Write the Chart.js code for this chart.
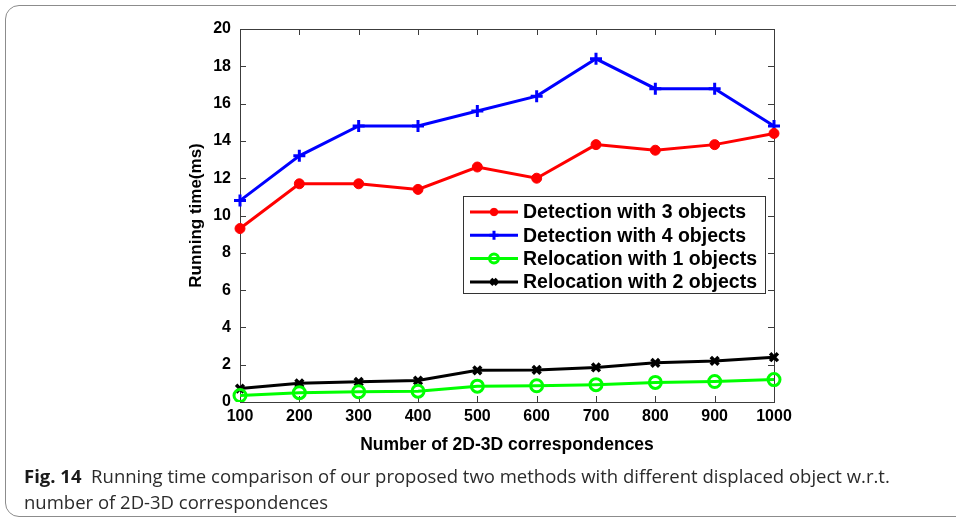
<!DOCTYPE html>
<html><head><meta charset="utf-8">
<script src="https://cdn.jsdelivr.net/npm/chart.js@4.4.1/dist/chart.umd.min.js"></script>
<style>
html,body{margin:0;padding:0;background:#fff;}
body{width:956px;height:520px;overflow:hidden;position:relative;}
#frame{position:absolute;left:5px;top:5px;width:990px;height:512px;border:1.5px solid #8c8c8c;border-radius:14px;box-sizing:border-box;}
#wrap{position:absolute;left:0;top:0;width:956px;height:520px;}
#cap{position:absolute;left:24px;top:463px;width:930px;font-family:"Open Sans","Liberation Sans",sans-serif;font-size:18.5px;line-height:26px;color:#2b2b2b;white-space:nowrap;}
#cap b{font-weight:700;color:#1a1a1a;}
</style>
</head>
<body>
<div id="frame"></div>
<div id="wrap"><canvas id="c" width="956" height="520"></canvas></div>
<div id="cap"><b>Fig. 14</b>&nbsp; Running time comparison of our proposed two methods with different displaced object w.r.t.<br>number of 2D-3D correspondences</div>
<script>
const correspondences = [100, 200, 300, 400, 500, 600, 700, 800, 900, 1000];
const detection3 = [9.3, 11.7, 11.7, 11.4, 12.6, 12.0, 13.8, 13.5, 13.8, 14.4];
const detection4 = [10.8, 13.2, 14.8, 14.8, 15.6, 16.4, 18.4, 16.8, 16.8, 14.8];
const relocation1 = [0.35, 0.50, 0.55, 0.58, 0.85, 0.87, 0.93, 1.05, 1.10, 1.20];
const relocation2 = [0.72, 1.00, 1.08, 1.15, 1.70, 1.72, 1.85, 2.10, 2.20, 2.40];
const seriesLabels = ["Detection with 3 objects", "Detection with 4 objects", "Relocation with 1 objects", "Relocation with 2 objects"];
const yTicks = [0, 2, 4, 6, 8, 10, 12, 14, 16, 18, 20];

const FONT = "'Liberation Sans', Arial, Helvetica, sans-serif";

const boxPlugin = {
  id: 'boxTicks',
  beforeDatasetsDraw(chart) {
    const {ctx, chartArea: a, scales: {x, y}} = chart;
    ctx.save();
    ctx.strokeStyle = '#3c3c3c';
    ctx.lineWidth = 1;
    ctx.strokeRect(Math.round(a.left) + 0.5, Math.round(a.top) + 0.5, Math.round(a.right - a.left), Math.round(a.bottom - a.top));
    const L = 6;
    ctx.beginPath();
    correspondences.forEach((v, i) => {
      const px = Math.round(x.getPixelForValue(i)) + 0.5;
      ctx.moveTo(px, a.bottom); ctx.lineTo(px, a.bottom - L);
      ctx.moveTo(px, a.top); ctx.lineTo(px, a.top + L);
    });
    yTicks.forEach(v => {
      const py = Math.round(y.getPixelForValue(v)) + 0.5;
      ctx.moveTo(a.left, py); ctx.lineTo(a.left + L, py);
      ctx.moveTo(a.right, py); ctx.lineTo(a.right - L, py);
    });
    ctx.stroke();
    ctx.restore();
  },
  afterDraw(chart) {
    const {ctx, chartArea: a} = chart;
    const w = 302, h = 97;
    const bx = Math.round(a.right - 311), by = Math.round(a.top + 167);
    ctx.save();
    ctx.fillStyle = '#fff';
    ctx.fillRect(bx, by, w, h);
    ctx.strokeStyle = '#333';
    ctx.lineWidth = 1;
    ctx.strokeRect(bx + 0.5, by + 0.5, w, h);
    const rowH = 23.3;
    chart.data.datasets.forEach((ds, i) => {
      const cy = by + 16 + i * rowH;
      const x0 = bx + 7, x1 = bx + 55, xm = (x0 + x1) / 2;
      ctx.strokeStyle = ds.borderColor;
      ctx.lineWidth = 3;
      ctx.beginPath(); ctx.moveTo(x0, cy); ctx.lineTo(x1, cy); ctx.stroke();
      ctx.lineWidth = ds.pointBorderWidth;
      ctx.fillStyle = ds.pointBackgroundColor;
      ctx.strokeStyle = ds.pointBorderColor;
      Chart.helpers.drawPoint(ctx, {pointStyle: ds.pointStyle, rotation: 0, radius: ds.pointRadius * 0.75, borderWidth: ds.pointBorderWidth}, xm, cy);
      ctx.fillStyle = '#000';
      ctx.font = "bold 19.5px " + FONT;
      ctx.textBaseline = 'middle';
      ctx.fillText(ds.label, bx + 60, cy + 1);
    });
    ctx.restore();
  }
};

const mk = (label, data, color, style, radius, bw, fill) => ({
  label, data,
  borderColor: color, backgroundColor: fill,
  borderWidth: 3,
  pointStyle: style, pointRadius: radius,
  pointBorderColor: color, pointBackgroundColor: fill,
  pointBorderWidth: bw,
  tension: 0
});

new Chart(document.getElementById('c'), {
  type: 'line',
  data: {
    labels: correspondences,
    datasets: [
      mk(seriesLabels[0], detection3, '#ff0000', 'circle', 5, 1, '#ff0000'),
      mk(seriesLabels[1], detection4, '#0000ff', 'cross', 6, 3, '#0000ff'),
      mk(seriesLabels[2], relocation1, '#00ff00', 'circle', 6, 3, 'rgba(0,0,0,0)'),
      mk(seriesLabels[3], relocation2, '#000000', 'crossRot', 5.5, 3.5, '#000000')
    ]
  },
  options: {
    responsive: false,
    animation: false,
    layout: {padding: {left: 176, right: 182, top: 29, bottom: 62}},
    plugins: {legend: {display: false}, tooltip: {enabled: false}},
    scales: {
      x: {
        type: 'category', offset: false,
        grid: {display: false, drawTicks: false, tickLength: 0}, border: {display: false},
        ticks: {color: '#000', font: {family: FONT, size: 16, weight: 'bold'}, padding: 5, maxRotation: 0, autoSkip: false},
        title: {display: true, text: 'Number of 2D-3D correspondences', color: '#000', font: {family: FONT, size: 17.5, weight: 'bold'}, padding: {top: 0, bottom: 2}},
        afterFit: s => { s.height = 56; }
      },
      y: {
        min: 0, max: 20,
        grid: {display: false, drawTicks: false, tickLength: 0}, border: {display: false},
        afterBuildTicks: s => { s.ticks = yTicks.map(v => ({value: v})); },
        ticks: {color: '#000', font: {family: FONT, size: 16, weight: 'bold'}, padding: 9},
        title: {display: true, text: 'Running time(ms)', color: '#000', font: {family: FONT, size: 17, weight: 'bold'}, padding: {top: 10, bottom: 0}},
        afterFit: s => { s.width = 64; }
      }
    }
  },
  plugins: [boxPlugin]
});
</script>
</body></html>
